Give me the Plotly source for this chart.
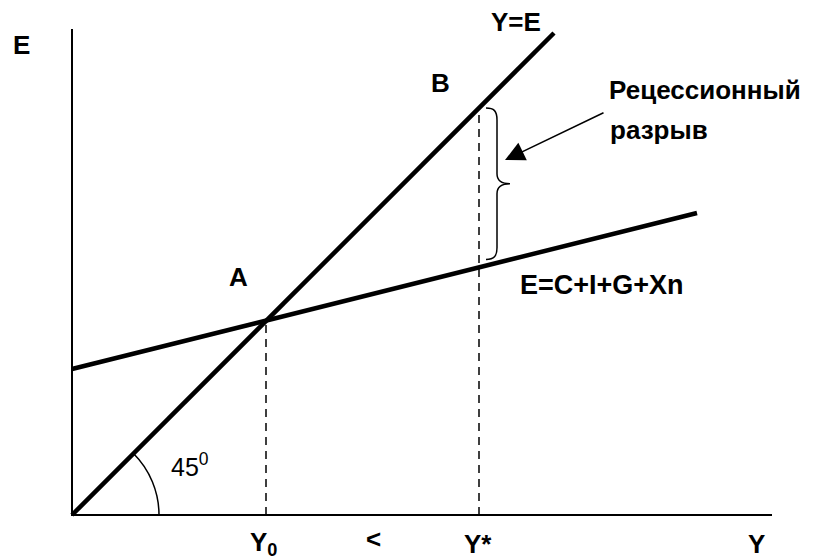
import plotly.graph_objects as go

# ---- data (abstract units, 45-degree line has slope 1) ----
line45_x = [0, 482]
line45_y = [0, 482]
ae_x = [0, 625]
ae_y = [146, 302]
Y0 = 194
Ystar = 407
ae_slope = (ae_y[1] - ae_y[0]) / (ae_x[1] - ae_x[0])
ae_at_ystar = ae_y[0] + ae_slope * Ystar
axis_x_max = 700
axis_y_max = 486

bold_labels = {
    "E": (-51, 470), "Y=E": (444, 493), "B": (368, 432), "A": (166, 238),
    "Y<sub>0</sub>": (191, -28), "<": (301, -24), "Y*": (406, -29), "Y": (684, -29),
}

fig = go.Figure()
FONT = "Liberation Sans, Arial, sans-serif"

# axes
fig.add_trace(go.Scatter(x=[0, 0, axis_x_max], y=[axis_y_max, 0, 0], mode="lines",
                         line=dict(color="black", width=2), hoverinfo="skip"))
# Y=E line
fig.add_trace(go.Scatter(x=line45_x, y=line45_y, mode="lines",
                         line=dict(color="black", width=4.5), hoverinfo="skip"))
# Aggregate expenditure line
fig.add_trace(go.Scatter(x=ae_x, y=ae_y, mode="lines",
                         line=dict(color="black", width=4.5), hoverinfo="skip"))
# dashed verticals
fig.add_trace(go.Scatter(x=[Y0, Y0], y=[0, Y0], mode="lines",
                         line=dict(color="black", width=1.5, dash="8px,6px"), hoverinfo="skip"))
fig.add_trace(go.Scatter(x=[Ystar, Ystar], y=[0, Ystar], mode="lines",
                         line=dict(color="black", width=1.5, dash="8px,6px"), hoverinfo="skip"))

# brace between the two lines at Y*
bx = Ystar + 9
top = Ystar
bot = ae_at_ystar + 8
mid = (top + bot) / 2
brace = (f"M {bx-2},{top} C {bx+6},{top} {bx+9},{top-3} {bx+9},{top-12} "
         f"L {bx+9},{mid+10} C {bx+9},{mid+3} {bx+13},{mid} {bx+22},{mid} "
         f"C {bx+13},{mid} {bx+9},{mid-3} {bx+9},{mid-10} "
         f"L {bx+9},{bot+12} C {bx+9},{bot+3} {bx+6},{bot} {bx-2},{bot}")
fig.add_shape(type="path", path=brace, xref="x", yref="y",
              line=dict(color="black", width=1.5))

# 45 degree arc (cubic bezier approximation)
r = 87
k = 0.265 * r
a0x, a0y = r * 0.7071, r * 0.7071
arc = (f"M {a0x:.1f},{a0y:.1f} C {a0x + k*0.7071:.1f},{a0y - k*0.7071:.1f} "
       f"{r},{k:.1f} {r},0")
fig.add_shape(type="path", path=arc, xref="x", yref="y",
              line=dict(color="black", width=1.5))

# arrow to brace
fig.add_annotation(x=433, y=355, ax=533, ay=403, axref="x", ayref="y", xref="x", yref="y",
                   text="", showarrow=True, arrowhead=2, arrowsize=2.6, arrowwidth=1.5,
                   arrowcolor="black", standoff=0)

for t, (x, y) in bold_labels.items():
    fig.add_annotation(x=x, y=y, text=f"<b>{t}</b>", showarrow=False,
                       font=dict(family=FONT, size=26, color="black"))

fig.add_annotation(x=535, y=425, text="<b>Рецессионный</b>", showarrow=False, xanchor="left",
                   font=dict(family=FONT, size=26, color="black"))
fig.add_annotation(x=536, y=385, text="<b>разрыв</b>", showarrow=False, xanchor="left",
                   font=dict(family=FONT, size=26, color="black"))
fig.add_annotation(x=446, y=230, text="<b>E=C+I+G+Xn</b>", showarrow=False, xanchor="left",
                   font=dict(family=FONT, size=27, color="black"))
fig.add_annotation(x=118, y=50, text="45<sup>0</sup>", showarrow=False,
                   font=dict(family=FONT, size=25, color="black"))

# page has an 8px body margin: ranges chosen so one data unit = one pixel
fig.update_layout(
    width=813, height=558, margin=dict(l=0, r=0, t=0, b=0),
    paper_bgcolor="white", plot_bgcolor="white", showlegend=False,
    xaxis=dict(range=[-64, 749], visible=False, fixedrange=True),
    yaxis=dict(range=[-51, 507], visible=False, fixedrange=True),
)
fig.write_html("out.html")
